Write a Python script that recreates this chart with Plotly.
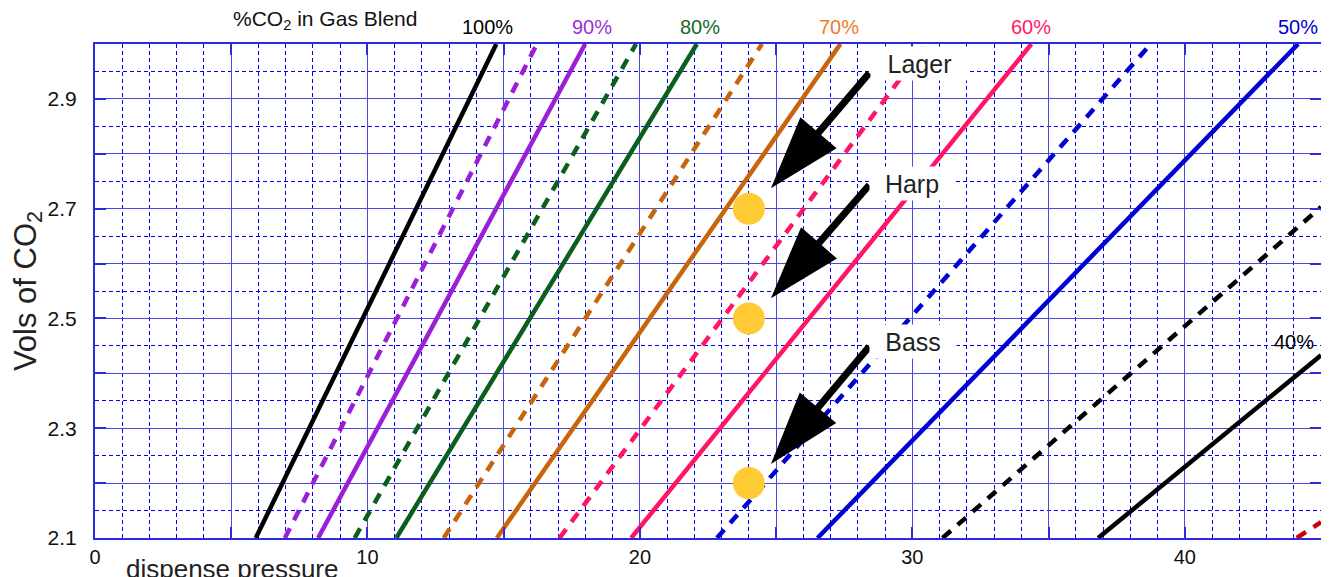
import plotly.graph_objects as go

# ---------------- data ----------------
blend_pct = [100, 95, 90, 85, 80, 75, 70, 65, 60, 55, 50, 45, 40, 35]
line_color = ["#000000", "#9b1fd6", "#9b1fd6", "#0b5e1c", "#0b5e1c", "#c8650a", "#c8650a",
              "#ff1466", "#ff1466", "#0000d2", "#0000d2", "#000000", "#000000", "#cc0000"]
line_dash = ["solid", "dash", "solid", "dash", "solid", "dash", "solid",
             "dash", "solid", "dash", "solid", "dash", "solid", "dash"]
# dispense pressure / vols at both visible ends of each line
p_start = [5.90, 6.97, 8.19, 9.53, 11.06, 12.80, 14.75, 17.05, 19.68, 22.83, 26.52, 31.11, 36.82, 44.11]
v_start = [2.1] * 14
p_end = [14.73, 16.22, 17.99, 19.86, 22.09, 24.48, 27.36, 30.50, 34.37, 38.75, 44.16, 45.0, 45.0, 45.0]
v_end = [3.0] * 11 + [2.703, 2.433, 2.129]

# line labels
label_text = ["100%", "90%", "80%", "70%", "60%", "50%", "40%"]
label_x = [14.41, 18.26, 22.19, 27.30, 34.35, 44.14, 44.0]
label_y = [3.0, 3.0, 3.0, 3.0, 3.0, 3.0, 2.458]
label_color = ["#000000", "#9b30d8", "#186a2a", "#f07b2c", "#ff1a66", "#0000cc", "#000000"]

# beers
beer_names = ["Lager", "Harp", "Bass"]
beer_p = [24.0, 24.0, 24.0]
beer_v = [2.7, 2.5, 2.2]
arrow_tail_p = [28.42, 28.42, 28.42]
arrow_tail_v = [2.947, 2.743, 2.449]
arrow_tip_p = [24.81, 24.81, 24.81]
arrow_tip_v = [2.737, 2.537, 2.235]
beer_label_p = [30.27, 30.0, 30.03]
beer_label_v = [2.9636, 2.745, 2.4576]
beer_box_w = [95, 82, 84]

# axes
x_tick_vals = [0, 5, 10, 15, 20, 25, 30, 35, 40, 45]
x_tick_text = ["0", "", "10", "", "20", "", "30", "", "40", ""]
y_tick_vals = [2.1, 2.2, 2.3, 2.4, 2.5, 2.6, 2.7, 2.8, 2.9, 3.0]
y_tick_text = ["2.1", "", "2.3", "", "2.5", "", "2.7", "", "2.9", ""]

FONT = "Liberation Sans, Arial, Helvetica, sans-serif"

fig = go.Figure()

for i in range(len(blend_pct)):
    dash = "11px,9px" if line_dash[i] == "dash" else "solid"
    fig.add_trace(go.Scatter(
        x=[p_start[i], p_end[i]], y=[v_start[i], v_end[i]],
        mode="lines", line=dict(color=line_color[i], width=4.5, dash=dash),
        name=f"{blend_pct[i]}%", hoverinfo="skip", showlegend=False,
    ))

# yellow dots
fig.add_trace(go.Scatter(
    x=beer_p, y=beer_v, mode="markers",
    marker=dict(size=32, color="#ffca33", opacity=1, line=dict(width=0)),
    hoverinfo="skip", showlegend=False,
))

# arrows
for i in range(len(beer_names)):
    fig.add_trace(go.Scatter(
        x=[arrow_tail_p[i], arrow_tip_p[i]], y=[arrow_tail_v[i], arrow_tip_v[i]],
        mode="lines+markers",
        line=dict(color="black", width=7),
        marker=dict(symbol=["circle", "arrow"], size=[0, 77], color="black", opacity=1,
                    angleref="previous", line=dict(width=0)),
        hoverinfo="skip", showlegend=False,
    ))

annotations = []
for t, x, y, c in zip(label_text, label_x, label_y, label_color):
    annotations.append(dict(
        x=x, y=y, xref="x", yref="y", text=t, showarrow=False,
        font=dict(family=FONT, size=20, color=c),
        yanchor="bottom" if y >= 3.0 else "middle", yshift=4 if y >= 3.0 else 0,
    ))

for name, x, y, w in zip(beer_names, beer_label_p, beer_label_v, beer_box_w):
    annotations.append(dict(
        x=x, y=y, xref="x", yref="y", text=name, showarrow=False,
        font=dict(family=FONT, size=25, color="#222222"),
        bgcolor="white", borderpad=1, width=w, height=31,
        align="center", valign="middle",
    ))

annotations.append(dict(
    x=8.45, y=3.0, xref="x", yref="y", text="%CO<sub>2</sub> in Gas Blend", showarrow=False,
    font=dict(family=FONT, size=21, color="#111111"), yanchor="bottom", yshift=9,
))
annotations.append(dict(
    x=0.112, y=0, xref="paper", yref="paper", xanchor="center",
    text="dispense pressure", showarrow=False,
    font=dict(family=FONT, size=26, color="#222222"), yanchor="middle", yshift=-31,
))

GRID_MAJOR = "#4a4ade"
GRID_MINOR = "#0000ee"
AXIS = "#2a2ae0"

# page body has an 8px margin: compensate in the figure size / margins
fig.update_layout(
    width=1321, height=569,
    margin=dict(l=87, r=6, t=36, b=39),
    paper_bgcolor="white", plot_bgcolor="white",
    showlegend=False,
    annotations=annotations,
    font=dict(family=FONT, color="#111111"),
    xaxis=dict(
        range=[0, 45], tickmode="array", tickvals=x_tick_vals, ticktext=x_tick_text,
        showgrid=True, gridcolor=GRID_MAJOR, gridwidth=1.2,
        minor=dict(dtick=1, showgrid=True, gridcolor=GRID_MINOR, griddash="4px,3px", gridwidth=1),
        showline=True, linecolor=AXIS, linewidth=2, mirror="ticks",
        ticks="inside", ticklen=11, tickwidth=2, tickcolor=AXIS,
        zeroline=False, tickfont=dict(size=20, family=FONT, color="#111111"),
    ),
    yaxis=dict(
        range=[2.1, 3.0], tickmode="array", tickvals=y_tick_vals, ticktext=y_tick_text,
        showgrid=True, gridcolor=GRID_MAJOR, gridwidth=1.2,
        minor=dict(dtick=0.05, showgrid=True, gridcolor=GRID_MINOR, griddash="4px,3px", gridwidth=1),
        showline=True, linecolor=AXIS, linewidth=2, mirror="ticks",
        ticks="inside", ticklen=11, tickwidth=2, tickcolor=AXIS,
        zeroline=False, tickfont=dict(size=21, family=FONT, color="#111111"),
        ticklabelstandoff=12,
        title=dict(text="Vols of CO<sub>2</sub>", font=dict(size=31, family=FONT, color="#222222"),
                   standoff=6),
    ),
)

fig.write_html("out.html")
